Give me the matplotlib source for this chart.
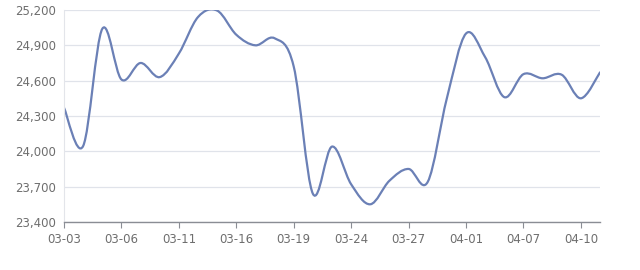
import matplotlib
matplotlib.use("Agg")
import matplotlib.pyplot as plt
from matplotlib.path import Path
from matplotlib.patches import PathPatch
from matplotlib.ticker import FuncFormatter

# daily price series
dates = ["03-03", "03-04", "03-05", "03-06", "03-07", "03-10", "03-11", "03-12",
         "03-13", "03-16", "03-17", "03-18", "03-19", "03-20", "03-21", "03-24",
         "03-25", "03-26", "03-27", "03-28", "03-31", "04-01", "04-02", "04-03",
         "04-07", "04-08", "04-09", "04-10", "04-11"]
prices = [24370, 24045, 25040, 24610, 24750, 24630, 24830, 25140,
          25195, 24990, 24900, 24960, 24720, 23640, 24040, 23720,
          23550, 23750, 23850, 23740, 24450, 25000, 24800, 24460,
          24655, 24620, 24650, 24450, 24670]
yticks = [23400, 23700, 24000, 24300, 24600, 24900, 25200]

fig = plt.figure(figsize=(6.4, 2.7), dpi=100)
ax = fig.add_axes([0.1, 0.178, 0.8375, 0.785])

xs = list(range(len(prices)))

# smooth curve like echarts: cubic bezier segments through the data points
k = 0.17
verts = [(xs[0], prices[0])]
codes = [Path.MOVETO]
n = len(xs)
for i in range(n - 1):
    p0 = (xs[i - 1], prices[i - 1]) if i > 0 else (xs[i], prices[i])
    p1 = (xs[i], prices[i])
    p2 = (xs[i + 1], prices[i + 1])
    p3 = (xs[i + 2], prices[i + 2]) if i + 2 < n else p2
    c1 = (p1[0] + (p2[0] - p0[0]) * k, p1[1] + (p2[1] - p0[1]) * k)
    c2 = (p2[0] - (p3[0] - p1[0]) * k, p2[1] - (p3[1] - p1[1]) * k)
    verts += [c1, c2, p2]
    codes += [Path.CURVE4] * 3
ax.add_patch(PathPatch(Path(verts, codes), fill=False, edgecolor="#6b80b6",
                       lw=1.6, capstyle="round", joinstyle="round"))

ax.set_xlim(0, n - 1)
ax.set_ylim(yticks[0], yticks[-1])
ax.set_yticks(yticks)
ax.yaxis.set_major_formatter(FuncFormatter(lambda v, p: f"{int(v):,}"))
ax.set_xticks(xs[::3])
ax.set_xticklabels(dates[::3])

ax.grid(axis="y", color="#e0e3ea", lw=0.9)
ax.set_axisbelow(True)
for s in ["top", "right"]:
    ax.spines[s].set_visible(False)
ax.spines["left"].set_color("#e3e5ea")
ax.spines["bottom"].set_color("#8a8d94")
ax.spines["bottom"].set_linewidth(1.0)
ax.tick_params(axis="y", length=0, pad=6, labelsize=8.5, labelcolor="#6e6e6e")
ax.tick_params(axis="x", length=4, color="#8a8d94", pad=4, labelsize=8.5,
               labelcolor="#6e6e6e")

fig.savefig("out.png", dpi=100)
